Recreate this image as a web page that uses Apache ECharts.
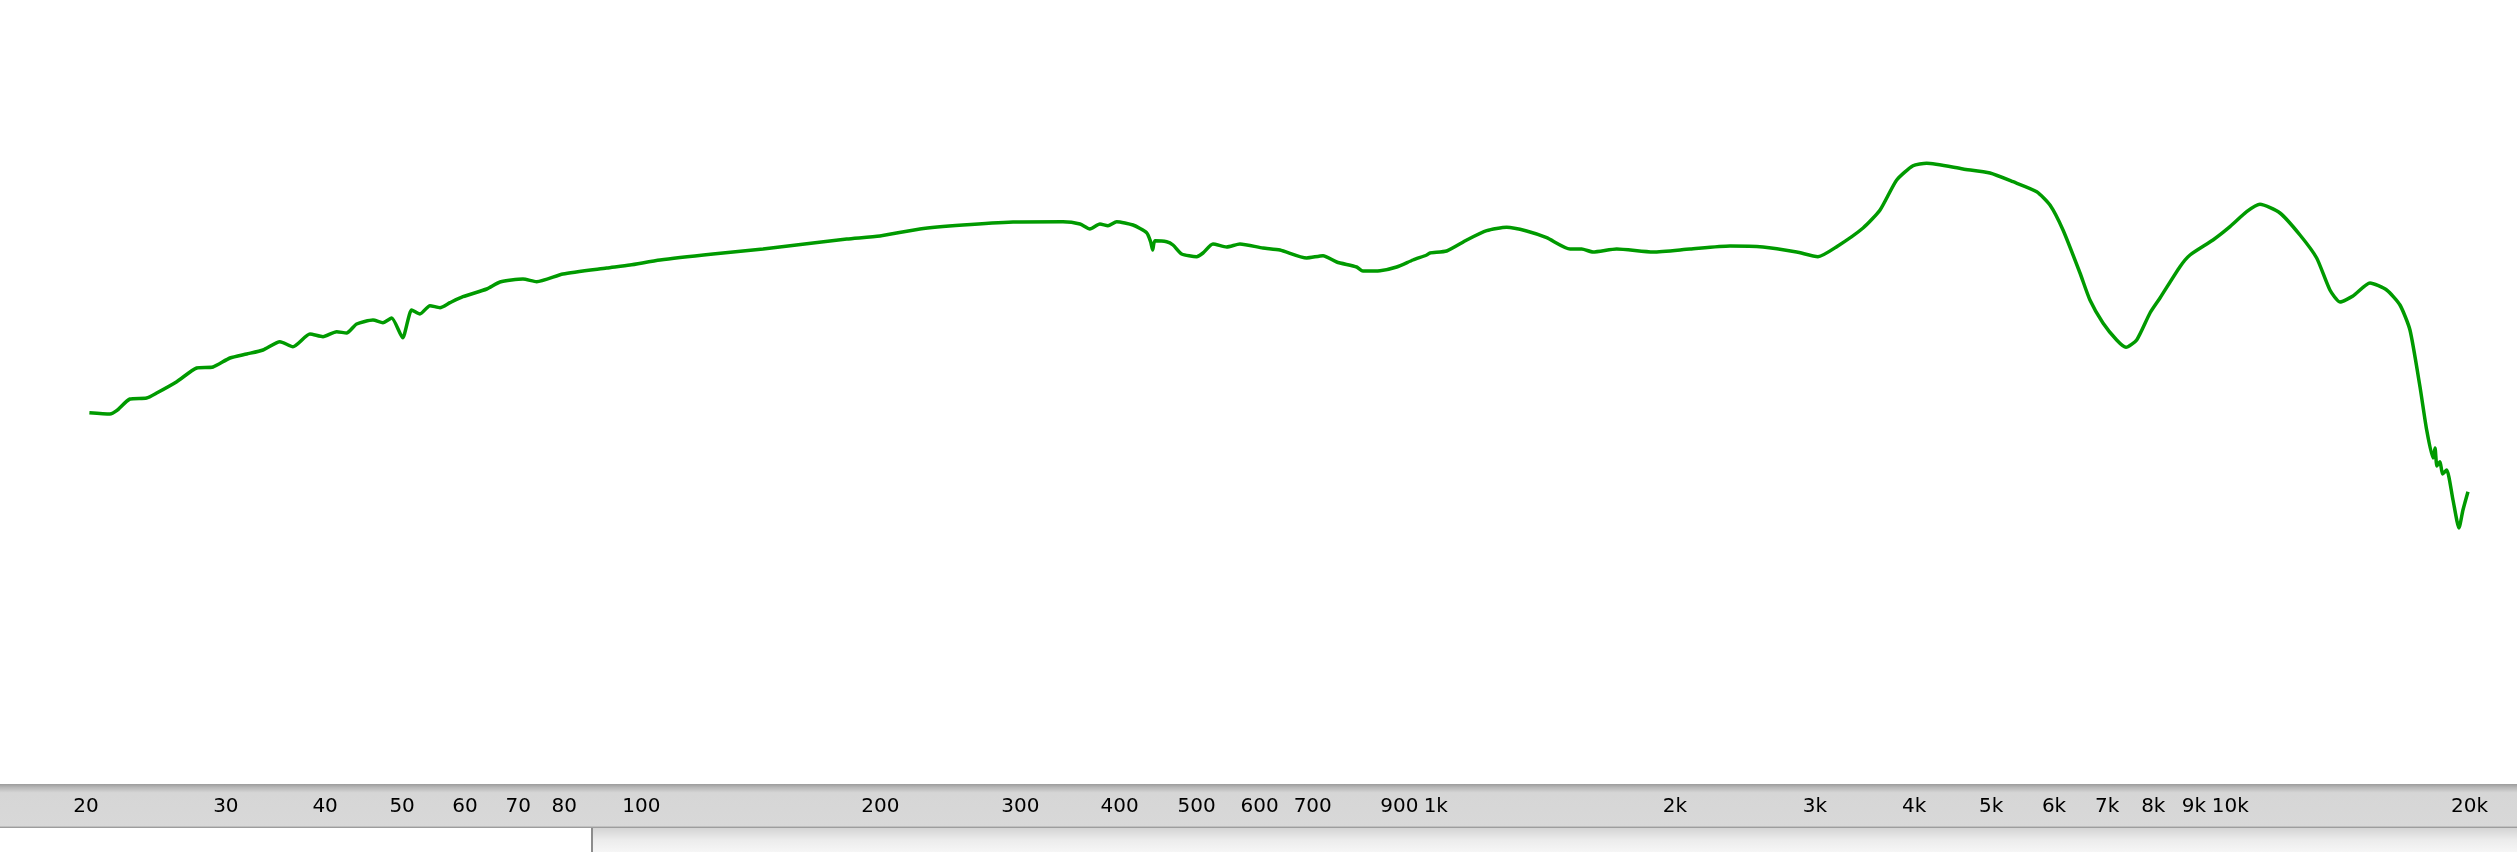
<!DOCTYPE html>
<html>
<head>
<meta charset="utf-8">
<script src="https://cdn.jsdelivr.net/npm/echarts@6/dist/echarts.min.js"></script>
<style>
html,body{margin:0;padding:0;background:#fff;}
#c{width:2517px;height:852px;}
</style>
</head>
<body>
<div id="c"></div>
<script>
// Frequency (Hz)
const freqs = [20.2,21.44,21.86,22.72,23.84,24.55,26.02,27.57,28.9,30.36,31.87,33.41,35.09,36.44,38.28,39.75,41.36,42.57,43.83,45.95,47.3,48.51,50.08,51.4,52.65,54.2,55.8,57.44,59.64,63.9,66.4,70.97,73.86,79.69,90.45,96.75,105.6,123.1,142.3,164.5,181.4,199.7,224.2,254.0,293.7,339.4,356.6,367.0,377.8,386.7,396.6,415.8,432.6,437.6,440.2,443.1,458.4,466.9,478.8,500.1,509.3,524.2,545.5,566.9,606.0,636.6,687.9,721.2,750.4,795.1,809.7,850.7,892.8,936.0,973.9,983.3,1032,1094,1159,1228,1301,1379,1476,1526,1577,1689,1877,2089,2346,2581,2846,3027,3196,3450,3624,3803,3987,4148,4609,4984,5327,5706,5930,6158,6469,6658,6914,7194,7391,7624,7924,8157,8643,8898,9511,9991,10486,10898,11548,12238,12844,13348,13742,14270,14990,15734,16352,16832,17328,17668,17994,18100,18200,18362,18500,18722,19068,19402,19626,19914];
// Level (dB, relative)
const levels = [-16.27,-16.4,-16.07,-14.9,-14.8,-14.3,-13.17,-11.8,-11.7,-10.8,-10.4,-10.0,-9.17,-9.67,-8.4,-8.67,-8.17,-8.3,-7.4,-7.0,-7.27,-6.8,-8.77,-6.0,-6.4,-5.57,-5.77,-5.27,-4.67,-3.9,-3.2,-2.9,-3.17,-2.4,-1.8,-1.5,-1.0,-0.4,0.1,0.7,1.1,1.4,2.1,2.5,2.8,2.83,2.6,2.1,2.6,2.43,2.83,2.5,1.73,0.83,0.0,0.93,0.83,0.5,-0.4,-0.67,-0.3,0.6,0.3,0.6,0.2,0.0,-0.8,-0.57,-1.2,-1.7,-2.1,-2.07,-1.7,-1.0,-0.5,-0.3,-0.1,1.0,1.93,2.27,1.9,1.23,0.1,0.1,-0.2,0.1,-0.2,0.1,0.4,0.3,-0.2,-0.67,0.33,2.2,4.0,7.0,8.43,8.67,8.1,7.7,6.83,5.83,4.5,2.0,-2.3,-5.0,-7.3,-9.0,-9.73,-9.0,-6.3,-4.8,-1.67,-0.5,1.0,2.33,3.83,4.57,3.7,1.5,-0.8,-4.0,-5.2,-4.6,-3.3,-4.0,-5.5,-8.0,-13.67,-18.0,-20.8,-19.8,-21.6,-21.17,-22.4,-22.0,-25.0,-27.8,-26.0,-24.17];
// Tick labels shown on the frequency axis
const tickValues = [20,30,40,50,60,70,80,100,200,300,400,500,600,700,900,1000,2000,3000,4000,5000,6000,7000,8000,9000,10000,20000];

const chart = echarts.init(document.getElementById('c'), null, {renderer:'canvas'});
const data = freqs.map((f,i)=>[f, levels[i]]);
const fmt = v => v >= 1000 ? (Math.round(v/1000)) + 'k' : String(Math.round(v));

chart.setOption({
  animation:false,
  backgroundColor:'#ffffff',
  grid:{left:0,right:0,top:0,bottom:68,containLabel:false},
  xAxis:{
    type:'log', logBase:10, min:15.59, max:22954,
    axisLine:{show:false}, axisTick:{show:false}, splitLine:{show:false},
    axisLabel:{
      show:true, customValues:tickValues, formatter:fmt,
      margin:23, verticalAlign:'middle',
      fontFamily:'DejaVu Sans', fontSize:20, color:'#000'
    }
  },
  yAxis:{
    type:'value', min:-53.4, max:25,
    show:false, splitLine:{show:false}
  },
  graphic:[
    {type:'rect', z:-10, shape:{x:0,y:784,width:2517,height:44},
     style:{fill:new echarts.graphic.LinearGradient(0,0,0,1,[
       {offset:0,color:'#9c9c9c'},{offset:0.08,color:'#b8b8b8'},{offset:0.2,color:'#d6d6d6'},{offset:0.95,color:'#d8d8d8'},{offset:1,color:'#8c8c8c'}])}},
    {type:'rect', z:-10, shape:{x:592,y:828,width:1925,height:24},
     style:{fill:new echarts.graphic.LinearGradient(0,0,0,1,[
       {offset:0,color:'#d4d4d4'},{offset:0.5,color:'#ececec'},{offset:1,color:'#f6f6f6'}])}},
    {type:'rect', z:-10, shape:{x:591,y:828,width:2,height:24}, style:{fill:'#8c8c8c'}}
  ],
  series:[{
    type:'line', data:data, symbol:'none', smooth:0.2,
    lineStyle:{color:'#009a00', width:3.5}
  }]
});
</script>
</body>
</html>
